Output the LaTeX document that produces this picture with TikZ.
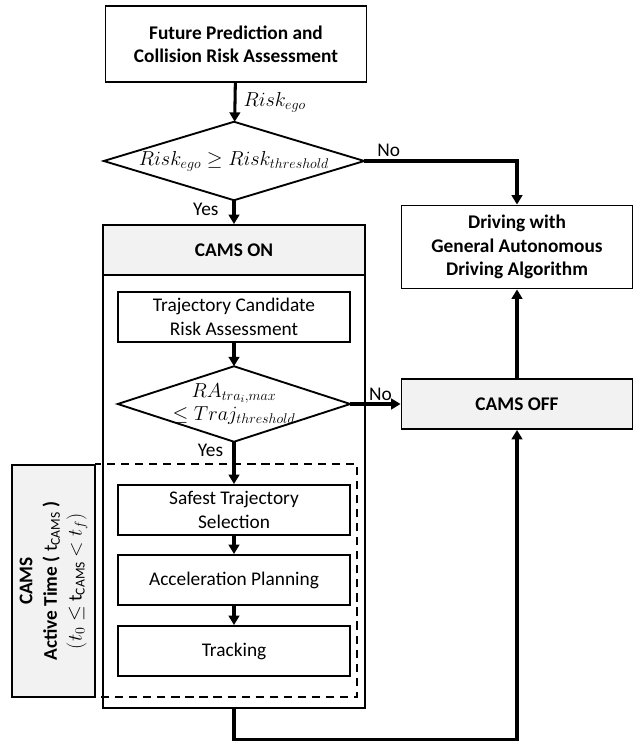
\documentclass[tikz,border=0pt]{standalone}
\usepackage{fontspec}
\setmainfont{Carlito}
\usetikzlibrary{arrows.meta}
\definecolor{camsgray}{RGB}{242,242,242}
\newcommand{\flowfont}{\fontsize{16.5}{20}\selectfont}
\newcommand{\mathsize}{\fontsize{17.5}{22}\selectfont}

\tikzset{
  box/.style={draw, line width=1.6pt, align=center, inner sep=0pt, font=\flowfont},
  boldbox/.style={box, font=\flowfont\bfseries},
  flowbox/.style={box, minimum width=6.96cm, minimum height=1.5cm},
  decision/.style={align=center, inner sep=0pt, font=\mathsize,
    minimum width=6.96cm, minimum height=2.25cm},
  rhomb/.style={line width=1.6pt},
  flow/.style={line width=2.6pt, -{Triangle[width=9pt,length=8pt]}},
  lbl/.style={font=\flowfont, inner sep=2pt}
}

\begin{document}
\begin{tikzpicture}[x=0.03cm, y=-0.03cm]
\useasboundingbox (0,0) rectangle (633,741);

\node[boldbox, minimum width=7.83cm, minimum height=2.28cm] (predict) at (236,44) {Future Prediction and\\Collision Risk Assessment};
\node[decision, minimum width=7.8cm, minimum height=2.34cm] (riskcheck) at (234,161) {$Risk_{ego} \geq Risk_{threshold}$};
\draw[rhomb] (riskcheck.west) -- (riskcheck.north) -- (riskcheck.east) -- (riskcheck.south) -- cycle;
\node[boldbox, minimum width=6.93cm, minimum height=2.49cm] (general) at (517,247) {Driving with\\General Autonomous\\Driving Algorithm};

% CAMS ON block
\node[box, minimum width=7.86cm, minimum height=14.49cm] (camsframe) at (234,466.5) {};
\node[boldbox, fill=camsgray, minimum width=7.86cm, minimum height=1.5cm] (camson) at (234,250) {CAMS ON};
\node[flowbox] (trajrisk) at (234,317) {Trajectory Candidate\\Risk Assessment};
\node[decision] (trajcheck) at (234,404) {$RA_{tra_i,max}$\\[-2pt]$\leq Traj_{threshold}$};
\draw[rhomb] (trajcheck.west) -- (trajcheck.north) -- (trajcheck.east) -- (trajcheck.south) -- cycle;
\node[boldbox, fill=camsgray, minimum width=6.93cm, minimum height=1.5cm] (camsoff) at (517,404) {CAMS OFF};

% active part
\draw[line width=1.6pt, dash pattern=on 7pt off 5pt] (95,464) rectangle (357,697);
\node[box, fill=camsgray, rotate=90, minimum width=6.96cm, minimum height=2.49cm, font=\fontsize{16.5}{21}\selectfont] (activetime) at (53.5,581)
  {\textbf{CAMS}\\\textbf{Active Time (} t\textsubscript{CAMS} \textbf{)}\\$(t_0 \leq$ t\textsubscript{CAMS} $< t_f)$};
\node[flowbox] (safest) at (234,510) {Safest Trajectory\\Selection};
\node[flowbox] (accel) at (234,580) {Acceleration Planning};
\node[flowbox] (tracking) at (234,651) {Tracking};

\draw[flow] (predict) -- node[right, lbl, font=\mathsize, inner sep=6pt]{$Risk_{ego}$} (riskcheck);
\draw[flow] (riskcheck.east) -| node[above, lbl, pos=0.08]{No} (general.north);
\draw[flow] (riskcheck) -- node[left, lbl, pos=0.4, inner sep=12pt]{Yes} (camson);
\draw[flow] (trajcheck) -- node[left, lbl, pos=0.2, inner sep=8pt]{Yes} (safest);
\draw[flow] (trajrisk) -- (trajcheck);
\draw[flow] (trajcheck) -- node[above, lbl, pos=0.6]{No} (camsoff);
\draw[flow] (safest) -- (accel);
\draw[flow] (accel) -- (tracking);
\draw[flow] (camsframe.south) -- ++(0,31) -| (camsoff.south);
\draw[flow] (camsoff) -- (general);
\end{tikzpicture}
\end{document}
